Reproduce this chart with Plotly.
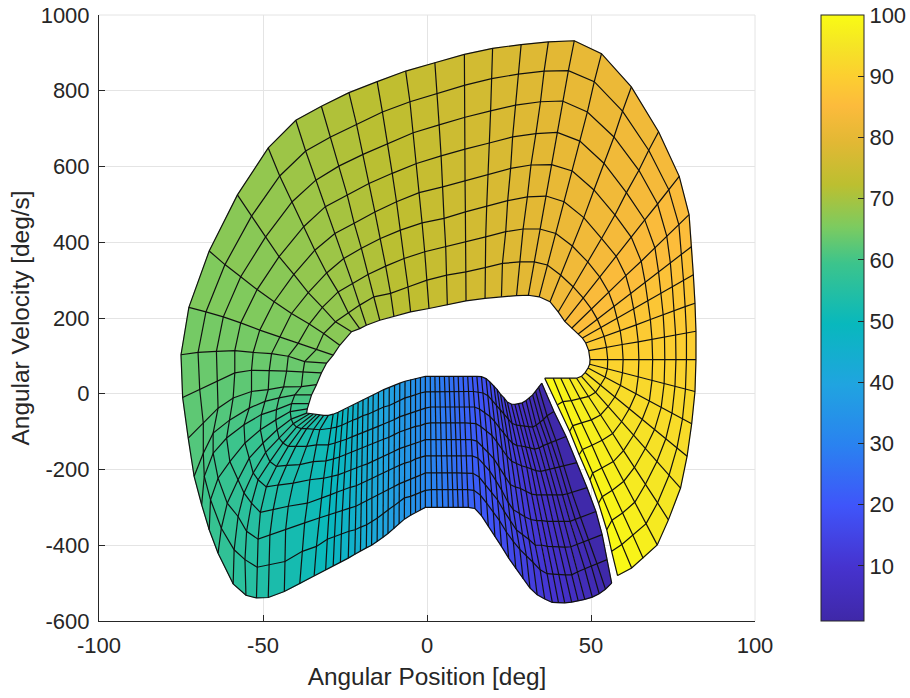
import plotly.graph_objects as go

x_ticks = [-100, -50, 0, 50, 100]
x_tick_labels = ["-100", "-50", "0", "50", "100"]
y_ticks = [-600, -400, -200, 0, 200, 400, 600, 800, 1000]
y_tick_labels = ["-600", "-400", "-200", "0", "200", "400", "600", "800", "1000"]
bar_ticks = [10, 20, 30, 40, 50, 60, 70, 80, 90, 100]

parula = [
    [0.00, "#3f28a8"], [0.09, "#4633cf"], [0.19, "#3f55fa"], [0.29, "#2a82f0"], [0.39, "#20a4e0"],
    [0.49, "#08b8bd"], [0.59, "#3cc48c"], [0.65, "#7ccb60"], [0.72, "#bcbf30"], [0.79, "#e2b834"],
    [0.85, "#fcbb3c"], [0.90, "#fccf30"], [0.95, "#f5e525"], [1.00, "#f9fb14"],
]

phase = [1, 2.1, 3.1, 4.2, 5.2, 6.3, 7.3, 8.4, 9.4, 10.5, 11.5, 12.6, 13.6, 14.7, 15.7, 16.8, 17.8, 18.9, 20,
         21, 22.1, 23.1, 24.2, 25.2, 26.3, 27.3, 28.4, 29.4, 30.5, 31.5, 32.6, 33.6, 34.7, 35.7, 36.8, 37.9, 38.9,
         40, 41, 42.1, 43.1, 44.2, 45.2, 46.3, 47.3, 48.4, 49.4, 50.5, 51.5, 52.6, 53.6, 54.7, 55.7, 56.8, 57.8,
         58.9, 60, 61, 62.1, 63.1, 64.2, 65.2, 66.3, 67.3, 68.4, 69.4, 70.5, 71.5, 72.6, 73.6, 74.7, 75.7, 76.8,
         77.9, 78.9, 80, 81, 82.1, 83.1, 84.2, 85.2, 86.3, 87.3, 88.4, 89.4, 90.5, 91.5, 92.6, 93.6, 94.7, 95.7,
         96.8, 97.9, 98.9, 100]

spoke_x = [
    [35, 38.7, 42.4, 45.7, 48.8, 51.5, 53.4, 54.9, 56.3],
    [34, 36.6, 39.3, 41.7, 44.2, 46.8, 49.3, 51.8, 54.4],
    [33.1, 35.5, 37.9, 40.4, 42.8, 45.2, 47.7, 50.1, 52.5],
    [32.2, 34.5, 36.8, 39, 41.3, 43.6, 45.9, 48.1, 50.4],
    [31.2, 33.3, 35.4, 37.5, 39.6, 41.8, 43.9, 46, 48.1],
    [30.2, 32.2, 34.2, 36.2, 38.2, 40.1, 42.1, 44.1, 46.1],
    [29, 30.9, 32.8, 34.7, 36.6, 38.4, 40.3, 42.2, 44.1],
    [27.9, 29.7, 31.4, 33.2, 34.9, 36.7, 38.5, 40.2, 42],
    [26.8, 28.5, 30.1, 31.8, 33.4, 35.1, 36.8, 38.4, 40.1],
    [25.7, 27.3, 28.8, 30.4, 31.9, 33.5, 35.1, 36.6, 38.2],
    [24.5, 25.9, 27.4, 28.8, 30.2, 31.6, 33, 34.5, 35.9],
    [23.5, 24.8, 26, 27.3, 28.5, 29.8, 31.1, 32.3, 33.6],
    [22.4, 23.5, 24.7, 25.8, 26.9, 28, 29.1, 30.3, 31.4],
    [21.4, 22.4, 23.4, 24.4, 25.4, 26.3, 27.3, 28.3, 29.3],
    [20.4, 21.2, 22.1, 22.9, 23.8, 24.6, 25.4, 26.3, 27.1],
    [19.2, 19.9, 20.6, 21.3, 22, 22.8, 23.5, 24.2, 24.9],
    [18, 18.6, 19.2, 19.8, 20.4, 20.9, 21.5, 22.1, 22.7],
    [16.6, 17.1, 17.6, 18.1, 18.6, 19.2, 19.7, 20.2, 20.7],
    [15.2, 15.6, 16.1, 16.5, 17, 17.4, 17.8, 18.3, 18.7],
    [13.8, 14.2, 14.5, 14.9, 15.2, 15.6, 15.9, 16.3, 16.6],
    [12.4, 12.7, 13, 13.2, 13.5, 13.8, 14, 14.3, 14.6],
    [11, 11.2, 11.4, 11.6, 11.8, 12, 12.2, 12.4, 12.6],
    [9.5, 9.7, 9.9, 10.1, 10.2, 10.4, 10.6, 10.8, 11],
    [8.1, 8.3, 8.5, 8.6, 8.8, 9, 9.1, 9.3, 9.5],
    [6.7, 6.9, 7, 7.2, 7.4, 7.5, 7.7, 7.8, 8],
    [5.3, 5.5, 5.6, 5.8, 5.9, 6.1, 6.2, 6.4, 6.5],
    [3.8, 3.9, 4.1, 4.2, 4.3, 4.4, 4.6, 4.7, 4.8],
    [2.4, 2.5, 2.6, 2.7, 2.8, 2.8, 2.9, 3, 3.1],
    [1, 1, 1.1, 1.1, 1.2, 1.2, 1.3, 1.3, 1.4],
    [-0.5, -0.5, -0.5, -0.5, -0.5, -0.5, -0.5, -0.5, -0.5],
    [-2, -2, -2, -2, -2, -2, -2, -2, -2],
    [-3.5, -3.5, -3.5, -3.5, -3.5, -3.5, -3.5, -3.5, -3.5],
    [-5, -5, -5, -5, -5, -5, -5, -5, -5],
    [-6.7, -6.7, -6.7, -6.8, -6.8, -6.8, -6.8, -6.9, -6.9],
    [-8.3, -8.3, -8.4, -8.4, -8.4, -8.4, -8.5, -8.5, -8.5],
    [-9.9, -9.9, -9.9, -10, -10, -10, -10, -10.1, -10.1],
    [-11.5, -11.5, -11.6, -11.6, -11.7, -11.7, -11.8, -11.8, -11.9],
    [-13.2, -13.2, -13.2, -13.3, -13.3, -13.3, -13.3, -13.4, -13.4],
    [-14.8, -14.9, -14.9, -15, -15, -15, -15.1, -15.1, -15.2],
    [-16.4, -16.5, -16.5, -16.6, -16.6, -16.7, -16.8, -16.8, -16.9],
    [-17.9, -18, -18.1, -18.1, -18.2, -18.3, -18.4, -18.4, -18.5],
    [-19.5, -19.6, -19.7, -19.8, -19.9, -20, -20.1, -20.2, -20.3],
    [-21, -21.1, -21.3, -21.4, -21.5, -21.6, -21.7, -21.9, -22],
    [-22.5, -22.7, -22.9, -23.1, -23.3, -23.4, -23.6, -23.8, -24],
    [-24, -24.3, -24.6, -24.9, -25.2, -25.5, -25.8, -26.1, -26.4],
    [-25.6, -26, -26.4, -26.7, -27.1, -27.5, -27.9, -28.2, -28.6],
    [-27.1, -27.6, -28.1, -28.5, -29, -29.5, -29.9, -30.4, -30.9],
    [-28.6, -29.3, -30.1, -30.8, -31.5, -32.2, -32.9, -33.7, -34.4],
    [-30.1, -32.7, -33.7, -34.7, -35.7, -36.5, -37.3, -38, -38.8],
    [-31.5, -34.5, -36.7, -38.8, -40.8, -42.3, -43.1, -43.3, -43.5],
    [-32.7, -36.7, -40, -42.8, -45.4, -46.9, -47.9, -48.1, -48.4],
    [-33.7, -38.3, -42.3, -45.9, -49, -50.8, -51.5, -51.8, -52],
    [-34.7, -39.8, -43.9, -47.9, -51.5, -53.5, -55, -55.5, -55.2],
    [-35.7, -40.8, -45.1, -49.2, -53, -55.8, -57.6, -58.8, -59.1],
    [-36.7, -41.4, -45.7, -50, -54.2, -57.6, -60.9, -62.7, -63.7],
    [-36.5, -41.7, -46.1, -50.8, -55.5, -60.1, -63.7, -66, -66.4],
    [-36, -41.3, -45.9, -50.5, -55.8, -61.1, -65.2, -67.9, -68.7],
    [-35.2, -40.3, -45.1, -49.4, -54.2, -60.1, -65.2, -68.2, -71],
    [-33.7, -38.3, -43.7, -48.4, -53.5, -59.1, -63.7, -68.2, -72.8],
    [-32.2, -37.8, -42.8, -48.1, -53.5, -58.6, -64, -69.3, -74.5],
    [-30.6, -37.3, -42.3, -47.4, -53, -58.6, -64.2, -69.8, -75],
    [-28.6, -33.7, -39.3, -44.9, -51, -56.8, -62.1, -67.4, -72.6],
    [-26.6, -31.5, -35.9, -41.3, -46.6, -51.8, -56.8, -61.6, -66.4],
    [-23, -27.9, -31.9, -36.2, -40.6, -45.1, -49.2, -53.5, -57.8],
    [-20.5, -24, -27.1, -30.6, -34.2, -37.6, -41.1, -44.9, -48.4],
    [-18.5, -20.5, -22.7, -25.4, -28.1, -31, -33.9, -37, -40],
    [-14.4, -16.2, -18, -20, -22.2, -24.3, -26.9, -29.4, -32.2],
    [-10.1, -11.1, -12.6, -14.2, -15.9, -17.7, -19.5, -21.5, -23.8],
    [-5, -5.8, -7, -8.1, -9.3, -10.6, -12, -13.6, -15.2],
    [0.6, 0, -0.7, -1.5, -2.4, -3.2, -4.2, -5.2, -6.5],
    [6.2, 6, 5.7, 5.2, 4.8, 4.3, 3.7, 3.1, 2.4],
    [11.9, 11.9, 11.8, 11.7, 11.6, 11.6, 11.6, 11.6, 11.4],
    [17.7, 17.7, 17.9, 18.2, 18.5, 19, 19.4, 19.7, 20],
    [22.7, 23, 24, 24.6, 25.5, 26.1, 27, 27.8, 28.7],
    [27.3, 28.3, 29.3, 30.6, 31.7, 33.2, 34.6, 35.7, 37],
    [30.9, 32.7, 34.4, 36.3, 38, 39.7, 41.3, 43.1, 44.9],
    [34.2, 36.7, 39.3, 41.8, 44.3, 46.6, 48.9, 51, 53.2],
    [37.5, 40.8, 44.3, 47.8, 50.9, 54, 57, 59.6, 62.3],
    [40, 44.6, 49, 53.2, 57.3, 60.8, 64.6, 67.6, 70.6],
    [42, 47.6, 52.7, 57.7, 62.3, 66.4, 70.3, 73.7, 76.9],
    [44.1, 50.1, 55.4, 60.6, 65.3, 69.5, 73.1, 76.8, 79.9],
    [46.1, 51.9, 57, 62.1, 66.5, 70.6, 74.2, 77.6, 80.7],
    [47.4, 53, 58, 63, 67.3, 71.3, 74.8, 78.2, 81.2],
    [48.4, 54, 58.9, 63.8, 68.1, 72, 75.4, 78.7, 81.7],
    [49.3, 54.7, 59.5, 64.4, 68.6, 72.4, 75.8, 79.1, 82],
    [49.7, 55.1, 59.8, 64.6, 68.8, 72.5, 75.9, 79.1, 82],
    [49.6, 55, 59.6, 64.4, 68.6, 72.3, 75.6, 78.8, 81.7],
    [49.1, 54.3, 59, 63.7, 67.8, 71.4, 74.7, 77.9, 80.7],
    [48.2, 52.9, 57.3, 61.7, 65.6, 69.4, 72.8, 76.2, 79.3],
    [47.1, 51.4, 55.3, 59.3, 63, 66.6, 70.1, 73.8, 77.3],
    [45.6, 49.3, 52.9, 56.6, 59.9, 63.3, 66.6, 70.3, 73.6],
    [43.4, 46.7, 50.1, 53.4, 56.8, 60, 63.4, 66.8, 70.2],
    [40.8, 44, 47.1, 50.3, 53.3, 56.5, 59.6, 62.8, 65.9],
    [38.5, 41.4, 44.5, 47.4, 50.5, 53.4, 56.4, 59.4, 62.4],
    [35.9, 39.8, 43.5, 46.4, 49.7, 52.3, 54.8, 56.3, 58.1],
]

spoke_y = [
    [28, -47, -113, -182, -248, -311, -372, -438, -500],
    [18, -58, -123, -190, -261, -326, -386, -448, -516],
    [7, -68, -128, -193, -264, -332, -391, -455, -528],
    [-3, -76, -133, -196, -267, -337, -398, -462, -537],
    [-11, -83, -137, -199, -267, -337, -404, -470, -543],
    [-18, -88, -143, -202, -267, -337, -405, -478, -547],
    [-24, -87, -146, -205, -268, -337, -405, -478, -550],
    [-26, -86, -143, -203, -268, -337, -405, -478, -552],
    [-28, -85, -140, -198, -267, -335, -403, -476, -552],
    [-27, -83, -138, -194, -265, -335, -400, -475, -551],
    [-22, -78, -137, -190, -258, -332, -400, -465, -542],
    [-11, -67, -130, -185, -250, -325, -385, -445, -531],
    [-1, -54, -118, -178, -246, -315, -371, -427, -513],
    [11, -42, -105, -165, -240, -306, -360, -411, -488],
    [21, -30, -90, -145, -218, -285, -335, -390, -462],
    [31, -17, -73, -127, -195, -255, -310, -365, -434],
    [40, -5, -60, -110, -172, -228, -280, -335, -403],
    [45, 2, -50, -97, -155, -205, -260, -311, -377],
    [46, 5, -41, -87, -140, -187, -240, -290, -350],
    [46, 6, -35, -79, -125, -170, -220, -268, -322],
    [46, 6, -35, -77, -121, -164, -210, -255, -303],
    [46, 6, -35, -77, -121, -164, -209, -253, -300],
    [46, 6, -35, -77, -121, -164, -209, -253, -300],
    [46, 6, -35, -77, -121, -164, -209, -253, -300],
    [46, 6, -35, -77, -121, -164, -209, -253, -300],
    [46, 6, -35, -77, -121, -164, -209, -253, -300],
    [46, 6, -35, -77, -121, -164, -209, -253, -300],
    [46, 6, -35, -77, -121, -164, -209, -253, -300],
    [46, 6, -35, -77, -121, -164, -209, -253, -300],
    [46, 5, -38, -79, -121, -164, -209, -255, -300],
    [43, 2, -42, -84, -126, -168, -215, -260, -307],
    [40, -3, -47, -86, -130, -172, -220, -265, -313],
    [37, -7, -51, -91, -135, -179, -227, -271, -321],
    [33, -11, -55, -95, -139, -183, -231, -275, -331],
    [28, -17, -61, -101, -145, -189, -238, -286, -344],
    [23, -24, -68, -108, -152, -196, -245, -296, -356],
    [17, -31, -75, -115, -159, -203, -253, -306, -369],
    [11, -35, -80, -120, -165, -209, -260, -317, -379],
    [4, -42, -86, -126, -172, -216, -268, -328, -391],
    [-3, -48, -92, -132, -179, -223, -275, -337, -400],
    [-10, -54, -98, -138, -185, -230, -284, -346, -407],
    [-16, -58, -104, -143, -190, -236, -290, -352, -415],
    [-24, -65, -110, -150, -196, -243, -297, -359, -424],
    [-30, -70, -114, -155, -201, -247, -302, -363, -434],
    [-37, -77, -120, -161, -208, -253, -308, -370, -445],
    [-43, -83, -126, -167, -214, -260, -313, -377, -454],
    [-49, -88, -130, -172, -218, -267, -319, -384, -465],
    [-54, -91, -135, -177, -223, -275, -328, -403, -480],
    [-57, -95, -135, -179, -227, -289, -341, -416, -502],
    [-57, -93, -139, -187, -236, -297, -359, -443, -522],
    [-56, -92, -139, -189, -241, -306, -372, -451, -538],
    [-55, -92, -139, -192, -246, -313, -384, -458, -539],
    [-54, -88, -130, -179, -227, -289, -363, -438, -532],
    [-52, -79, -117, -155, -209, -262, -324, -412, -502],
    [-51, -67, -95, -130, -170, -227, -289, -355, -421],
    [-40, -47, -69, -95, -130, -179, -223, -280, -359],
    [-26, -26, -42, -55, -82, -117, -157, -218, -293],
    [-3, -3, -11, -20, -38, -69, -104, -157, -218],
    [24, 19, 18, 11, 6, -11, -38, -77, -117],
    [55, 58, 60, 61, 62, 55, 33, 12, -10],
    [81, 85, 99, 106, 109, 114, 112, 109, 103],
    [102, 117, 133, 149, 168, 187, 203, 216, 228],
    [128, 159, 184, 212, 243, 275, 309, 341, 377],
    [164, 190, 228, 267, 315, 362, 414, 469, 525],
    [172, 214, 269, 319, 379, 441, 507, 575, 649],
    [181, 234, 291, 357, 423, 494, 564, 641, 722],
    [194, 256, 315, 384, 450, 524, 601, 678, 759],
    [205, 265, 337, 410, 480, 555, 632, 712, 795],
    [216, 282, 357, 432, 507, 582, 661, 744, 824],
    [225, 300, 375, 451, 531, 608, 689, 771, 852],
    [234, 313, 388, 463, 546, 628, 710, 793, 874],
    [245, 322, 401, 480, 562, 646, 730, 815, 896],
    [252, 333, 414, 495, 578, 662, 747, 832, 912],
    [256, 344, 428, 510, 595, 678, 762, 844, 922],
    [259, 348, 435, 520, 604, 687, 771, 852, 929],
    [260, 348, 435, 522, 605, 690, 773, 853, 932],
    [256, 340, 423, 507, 588, 667, 744, 824, 898],
    [243, 313, 390, 465, 538, 608, 678, 746, 810],
    [216, 282, 348, 410, 472, 531, 590, 643, 692],
    [191, 253, 308, 363, 413, 459, 501, 539, 574],
    [173, 224, 268, 312, 350, 385, 416, 446, 473],
    [158, 197, 231, 265, 295, 321, 345, 369, 389],
    [147, 175, 200, 224, 246, 266, 283, 299, 314],
    [134, 151, 167, 182, 196, 209, 219, 230, 239],
    [114, 123, 130, 137, 144, 150, 155, 160, 165],
    [90, 90, 90, 90, 90, 90, 90, 90, 90],
    [78, 66, 55, 45, 36, 27, 20, 12, 6],
    [68, 43, 22, 0, -19, -36, -51, -66, -79],
    [56, 23, -8, -39, -68, -94, -119, -143, -165],
    [46, 4, -33, -74, -109, -144, -179, -215, -249],
    [41, -7, -56, -105, -150, -194, -239, -288, -333],
    [41, -13, -69, -123, -179, -231, -286, -343, -399],
    [41, -18, -77, -136, -196, -255, -315, -374, -434],
    [41, -21, -84, -147, -209, -272, -334, -398, -460],
    [41, -29, -99, -161, -227, -289, -359, -416, -480],
]


def hex_to_rgb(h):
    return tuple(int(h[i:i + 2], 16) for i in (1, 3, 5))


def parula_color(value):
    t = (value - 1) / 99
    for (t0, c0), (t1, c1) in zip(parula, parula[1:]):
        if t <= t1:
            f = (t - t0) / (t1 - t0)
            a, b = hex_to_rgb(c0), hex_to_rgb(c1)
            return "rgb(%d,%d,%d)" % tuple(round(a[i] + (b[i] - a[i]) * f) for i in range(3))
    return parula[-1][1]


fig = go.Figure()

for k in range(len(phase) - 1):
    col = parula_color((phase[k] + phase[k + 1]) / 2)
    fig.add_trace(go.Scatter(
        x=spoke_x[k] + spoke_x[k + 1][::-1],
        y=spoke_y[k] + spoke_y[k + 1][::-1],
        fill="toself", fillcolor=col, mode="lines",
        line=dict(color=col, width=0.6), hoverinfo="skip", showlegend=False,
    ))

mesh_x, mesh_y = [], []
for sx, sy in zip(spoke_x, spoke_y):
    mesh_x += sx + [None]
    mesh_y += sy + [None]
for r in range(9):
    mesh_x += [s[r] for s in spoke_x] + [None]
    mesh_y += [s[r] for s in spoke_y] + [None]
fig.add_trace(go.Scatter(x=mesh_x, y=mesh_y, mode="lines",
                         line=dict(color="#111111", width=1.2), hoverinfo="skip", showlegend=False))

# Colour scale shown by the colour bar
fig.add_trace(go.Scatter(
    x=[spoke_x[0][0]], y=[spoke_y[0][0]], mode="markers", hoverinfo="skip", showlegend=False,
    marker=dict(size=0.1, opacity=0, color=[phase[0]], cmin=1, cmax=100, colorscale=parula,
                colorbar=dict(
                    thickness=43, thicknessmode="pixels", len=606, lenmode="pixels",
                    x=(821 - 99) / 656, xanchor="left", xpad=0, y=0, yanchor="bottom", ypad=0,
                    tickmode="array", tickvals=bar_ticks, ticks="inside", ticklen=6, tickwidth=1,
                    tickcolor="#262626", outlinecolor="#262626", outlinewidth=1,
                    tickfont=dict(family="Liberation Sans", size=22, color="#262626"),
                )),
))

axis_common = dict(showgrid=True, gridcolor="#e4e4e4", gridwidth=1, zeroline=False, showline=True,
                   linecolor="#262626", linewidth=1, mirror=False, ticks="inside", ticklen=6,
                   tickwidth=1, tickcolor="#262626",
                   tickfont=dict(family="Liberation Sans", size=22, color="#262626"))

fig.update_layout(
    width=910, height=698, autosize=False,
    margin=dict(l=99, r=155, t=15, b=77, autoexpand=False),
    paper_bgcolor="white", plot_bgcolor="white", showlegend=False,
    shapes=[
        dict(type="line", xref="paper", yref="paper", x0=0, x1=1, y0=1, y1=1,
             line=dict(color="#e4e4e4", width=1), layer="below"),
        dict(type="line", xref="paper", yref="paper", x0=1, x1=1, y0=0, y1=1,
             line=dict(color="#e4e4e4", width=1), layer="below"),
    ],
    xaxis=dict(range=[-100, 100], tickmode="array", tickvals=x_ticks, ticktext=x_tick_labels,
               automargin=False, ticklabelstandoff=5,
               title=dict(text="Angular Position [deg]", standoff=10,
                          font=dict(family="Liberation Sans", size=24.4, color="#262626")), **axis_common),
    yaxis=dict(range=[-600, 1000], tickmode="array", tickvals=y_ticks, ticktext=y_tick_labels,
               automargin=False, ticklabelstandoff=4,
               title=dict(text="Angular Velocity [deg/s]", standoff=4,
                          font=dict(family="Liberation Sans", size=24.4, color="#262626")), **axis_common),
)

fig.write_html("out.html", config=dict(displayModeBar=False),
               post_script="document.body.style.margin='0';document.body.style.overflow='hidden';")
